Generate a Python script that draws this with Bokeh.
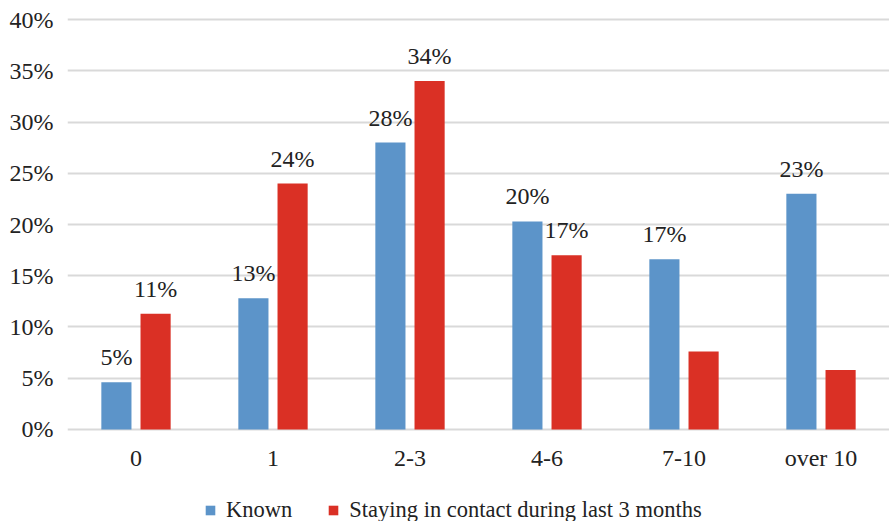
from bokeh.plotting import figure
from bokeh.layouts import column
from bokeh.models import (Range1d, FixedTicker, Legend, LegendItem, ColumnDataSource,
                          PrintfTickFormatter)
from bokeh.transform import dodge
from bokeh.core.properties import value
from bokeh.embed import file_html
from bokeh.resources import INLINE

categories = ["0", "1", "2-3", "4-6", "7-10", "over 10"]
known = [4.6, 12.8, 28.0, 20.3, 16.6, 23.0]
contact = [11.3, 24.0, 34.0, 17.0, 7.6, 5.8]
known_labels = ["5%", "13%", "28%", "20%", "17%", "23%"]
contact_labels = ["11%", "24%", "34%", "17%", "", ""]
series_names = ["Known", "Staying in contact during last 3 months"]
y_ticks = [0, 5, 10, 15, 20, 25, 30, 35, 40]

FONT = "Liberation Serif"
FS = "24px"
BLUE = "#5C94C9"
RED = "#DA3025"
TXT = "#222222"

idx = list(range(len(categories)))
src = ColumnDataSource(dict(x=idx, known=known, contact=contact,
                            kl=known_labels, cl=contact_labels))

fig = figure(frame_width=822, frame_height=418, x_range=Range1d(-0.5, 5.5), y_range=Range1d(-0.3, 40.5),
             output_backend="svg", toolbar_location=None,
             min_border_left=67, min_border_right=0, min_border_top=14, min_border_bottom=48)
fig.outline_line_color = None
fig.background_fill_color = "white"
fig.border_fill_color = "white"

off = 0.143
w = 0.22
fig.vbar(x=dodge("x", -off), top="known", bottom=0, width=w, source=src,
         fill_color=BLUE, line_color=None)
fig.vbar(x=dodge("x", off), top="contact", bottom=0, width=w, source=src,
         fill_color=RED, line_color=None)

fig.text(x=dodge("x", -off), y="known", text="kl", source=src, text_align="center",
         text_baseline="alphabetic", y_offset=-25, text_font=value(FONT),
         text_font_size=FS, text_color=TXT)
fig.text(x=dodge("x", off), y="contact", text="cl", source=src, text_align="center",
         text_baseline="alphabetic", y_offset=-25, text_font=value(FONT),
         text_font_size=FS, text_color=TXT)

fig.xgrid.visible = False
fig.ygrid.grid_line_color = "#d9d9d9"
fig.ygrid.grid_line_width = 2
fig.ygrid.ticker = FixedTicker(ticks=y_ticks)

fig.yaxis.ticker = FixedTicker(ticks=y_ticks)
fig.yaxis.formatter = PrintfTickFormatter(format="%d%%")
fig.xaxis.ticker = FixedTicker(ticks=idx)
fig.xaxis.major_label_overrides = {i: c for i, c in zip(idx, categories)}
for ax in (fig.xaxis, fig.yaxis):
    ax.axis_line_color = None
    ax.major_tick_line_color = None
    ax.minor_tick_line_color = None
    ax.major_tick_out = 0
    ax.major_tick_in = 0
    ax.major_label_text_font = FONT
    ax.major_label_text_font_size = FS
    ax.major_label_text_color = TXT
fig.yaxis.major_label_standoff = 14
fig.xaxis.major_label_standoff = 12

# legend strip below the chart (frame aligned with the chart frame by the column)
leg = figure(width=889, height=41, x_range=Range1d(0, 1), y_range=Range1d(0, 1),
             output_backend="svg", toolbar_location=None,
             min_border_left=0, min_border_right=0, min_border_top=0, min_border_bottom=0)
leg.axis.visible = False
leg.grid.visible = False
leg.outline_line_color = None
# swatch renderers: a single zero-height bar outside the visible range
lr1 = leg.vbar(x=[-5], top=[0], width=0.1, fill_color=BLUE, line_color=None)
lr2 = leg.vbar(x=[-5], top=[0], width=0.1, fill_color=RED, line_color=None)
legend = Legend(items=[LegendItem(label=series_names[0], renderers=[lr1]),
                       LegendItem(label=series_names[1], renderers=[lr2])],
                orientation="horizontal", location=(137, -2))
legend.label_text_font = FONT
legend.label_text_font_size = "22.5px"
legend.label_text_color = TXT
legend.glyph_width = 12
legend.glyph_height = 12
legend.label_standoff = 10
legend.spacing = 35
legend.border_line_color = None
legend.background_fill_alpha = 0
legend.padding = 0
legend.margin = 0
leg.add_layout(legend)

p = column(fig, leg, spacing=0)

open("out.html", "w").write(file_html(p, INLINE))
